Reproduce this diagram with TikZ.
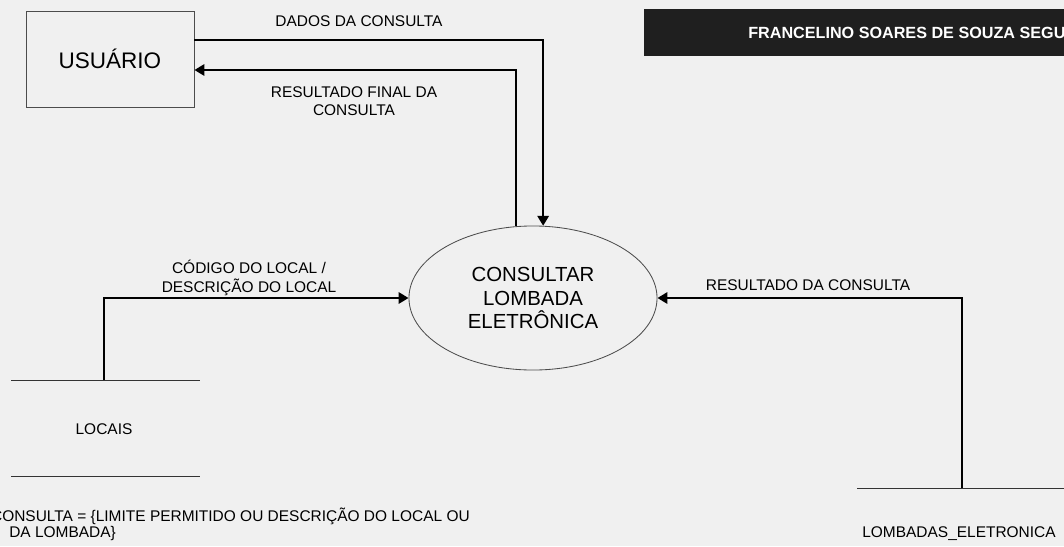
\documentclass[tikz,border=0pt]{standalone}
\usepackage{fontspec}
\setmainfont{Liberation Sans}
\usetikzlibrary{shapes,arrows.meta}
\tikzset{flow/.style={line width=1.4pt,-{Triangle[length=7pt,width=8pt]}},
%rotulos dos fluxos
lab/.style={font=\fontsize{11}{13}\selectfont, align=center, inner sep=0pt},
store/.style={line width=0.7pt, draw=black!80}}

\begin{document}
\begin{tikzpicture}[x=0.025cm,y=-0.025cm]
\useasboundingbox (0,0) rectangle (1064,546);
\clip (0,0) rectangle (1064,546);
\fill [black!6] (0,0) rectangle (1064,546);

% faixa do autor
\fill [black!88] (644,9) rectangle (1064,56);
\node[anchor=west, text=white, inner sep=0pt, font=\bfseries\fontsize{11.5}{14}\selectfont] (autor) at (748,33) {FRANCELINO SOARES DE SOUZA SEGUN};

% entidade
\node[draw=black!70, line width=0.6pt, minimum width=4.2cm, minimum height=2.4cm, font=\fontsize{16}{18}\selectfont] (usuario) at (110,59) {USUÁRIO};

% processo
\node[ellipse, draw=black!70, line width=0.6pt, minimum width=6.2cm, minimum height=3.6cm, align=center, font=\fontsize{14.5}{17}\selectfont] (processo) at (533,298) {CONSULTAR\\LOMBADA\\ELETRÔNICA};

\draw[flow] (usuario.east |- 0,40) -| (processo.82);
\draw[flow] (processo.103) |- (usuario.east |- 0,70);
\node[lab] (dados) at (359,21) {DADOS DA CONSULTA};
\node[lab] (final) at (354,101) {RESULTADO FINAL DA\\CONSULTA};

% Draw LOCAIS
\draw[store] (11,380) -- (200,380);
\draw[store] (11,476) -- (200,476);
\node[lab] (locais) at (104,429) {LOCAIS};
\coordinate (locaisTopo) at (104,380);
\draw[flow] (locaisTopo) |- (processo.west);
\node[lab] (codigo) at (249,278) {CÓDIGO DO LOCAL /\\DESCRIÇÃO DO LOCAL};

% Draw LOMBADAS
\draw[store] (857,488) -- (1064,488);
\node[lab, anchor=west] (lombadas) at (862,534) {LOMBADAS\_ELETRONICA};
\coordinate (lombadasTopo) at (962,488);
\draw[flow] (lombadasTopo) |- (processo.east);
\node[lab] (resultado) at (808,285) {RESULTADO DA CONSULTA};

% dicionario
\node[lab, anchor=east] (consulta) at (470,516) {CONSULTA = \{LIMITE PERMITIDO OU DESCRIÇÃO DO LOCAL OU};
\node[lab, anchor=west] (lombada) at (9,533) {DA LOMBADA\}};

\end{tikzpicture}
\end{document}
